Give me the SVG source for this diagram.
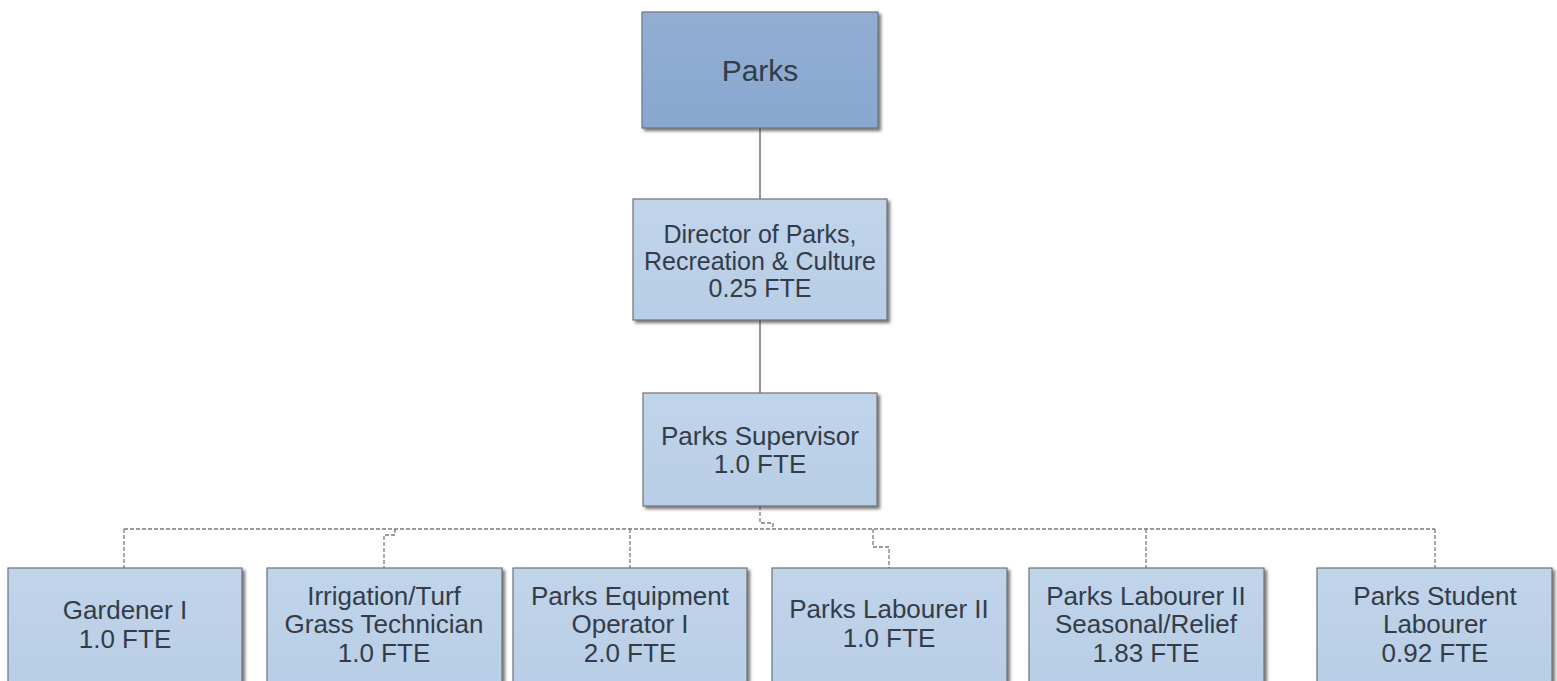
<svg xmlns="http://www.w3.org/2000/svg" width="1557" height="681" viewBox="0 0 1557 681">
  <defs>
    <filter id="shadow" x="-5%" y="-5%" width="115%" height="115%">
      <feDropShadow dx="2.5" dy="2.5" stdDeviation="1.4" flood-color="#4a4a4a" flood-opacity="0.75"/>
    </filter>
    <linearGradient id="topFill" x1="0" y1="0" x2="0" y2="1">
      <stop offset="0" stop-color="#92aed3"/>
      <stop offset="1" stop-color="#89a7cf"/>
    </linearGradient>
    <linearGradient id="boxFill" x1="0" y1="0" x2="0" y2="1">
      <stop offset="0" stop-color="#c0d4ea"/>
      <stop offset="1" stop-color="#b8cee6"/>
    </linearGradient>
  </defs>
  <style>
    .box { fill: url(#boxFill); stroke: #6f747a; stroke-width: 1.2; filter: url(#shadow); }
    .top { fill: url(#topFill); }
    .lbl { font-family: "Liberation Sans", Arial, sans-serif; font-size: 26px; fill: #333c48; text-anchor: middle; }
    .dir { font-size: 25px; }
    .solid { stroke: #5a5a5a; stroke-width: 1.3; fill: none; }
    .dash { stroke: #7a7a7a; stroke-width: 1.3; fill: none; stroke-dasharray: 4 2; }
  </style>
  <rect width="1557" height="681" fill="#ffffff"/>

  <!-- connectors -->
  <g id="connectors">
    <line class="solid" x1="760" y1="128" x2="760" y2="199"/>
    <line class="solid" x1="760" y1="320" x2="760" y2="393"/>
    <polyline class="dash" points="760,506 760,523 773,523 773,529"/>
    <line class="dash" x1="124" y1="529" x2="1435" y2="529"/>
    <line class="dash" x1="124" y1="529" x2="124" y2="568"/>
    <polyline class="dash" points="395,529 395,535 384,535 384,568"/>
    <line class="dash" x1="630" y1="529" x2="630" y2="568"/>
    <polyline class="dash" points="873,529 873,547 889,547 889,568"/>
    <line class="dash" x1="1146" y1="529" x2="1146" y2="568"/>
    <line class="dash" x1="1435" y1="529" x2="1435" y2="568"/>
  </g>

  <g id="parks">
    <rect class="box top" x="642" y="12" width="236" height="116"/>
    <text class="lbl" x="760" y="81" style="font-size:30px">Parks</text>
  </g>

  <g id="director">
    <rect class="box" x="633" y="199" width="254" height="121"/>
    <text class="lbl dir" x="760" y="243">Director of Parks,</text>
    <text class="lbl dir" x="760" y="270">Recreation &amp; Culture</text>
    <text class="lbl dir" x="760" y="297">0.25 FTE</text>
  </g>

  <g id="supervisor">
    <rect class="box" x="643" y="393" width="234" height="113"/>
    <text class="lbl" x="760" y="445">Parks Supervisor</text>
    <text class="lbl" x="760" y="473">1.0 FTE</text>
  </g>

  <g id="gardener">
    <rect class="box" x="8" y="568" width="234" height="130"/>
    <text class="lbl" x="125" y="619">Gardener I</text>
    <text class="lbl" x="125" y="648">1.0 FTE</text>
  </g>

  <g id="irrigation">
    <rect class="box" x="267" y="568" width="235" height="130"/>
    <text class="lbl" x="384" y="605">Irrigation/Turf</text>
    <text class="lbl" x="384" y="633">Grass Technician</text>
    <text class="lbl" x="384" y="662">1.0 FTE</text>
  </g>

  <g id="equipment">
    <rect class="box" x="513" y="568" width="234" height="130"/>
    <text class="lbl" x="630" y="605">Parks Equipment</text>
    <text class="lbl" x="630" y="633">Operator I</text>
    <text class="lbl" x="630" y="662">2.0 FTE</text>
  </g>

  <g id="labourer2">
    <rect class="box" x="772" y="568" width="235" height="130"/>
    <text class="lbl" x="889" y="618">Parks Labourer II</text>
    <text class="lbl" x="889" y="647">1.0 FTE</text>
  </g>

  <g id="seasonal">
    <rect class="box" x="1029" y="568" width="235" height="130"/>
    <text class="lbl" x="1146" y="605">Parks Labourer II</text>
    <text class="lbl" x="1146" y="633">Seasonal/Relief</text>
    <text class="lbl" x="1146" y="662">1.83 FTE</text>
  </g>

  <g id="student">
    <rect class="box" x="1317" y="568" width="235" height="130"/>
    <text class="lbl" x="1435" y="605">Parks Student</text>
    <text class="lbl" x="1435" y="633">Labourer</text>
    <text class="lbl" x="1435" y="662">0.92 FTE</text>
  </g>
</svg>
